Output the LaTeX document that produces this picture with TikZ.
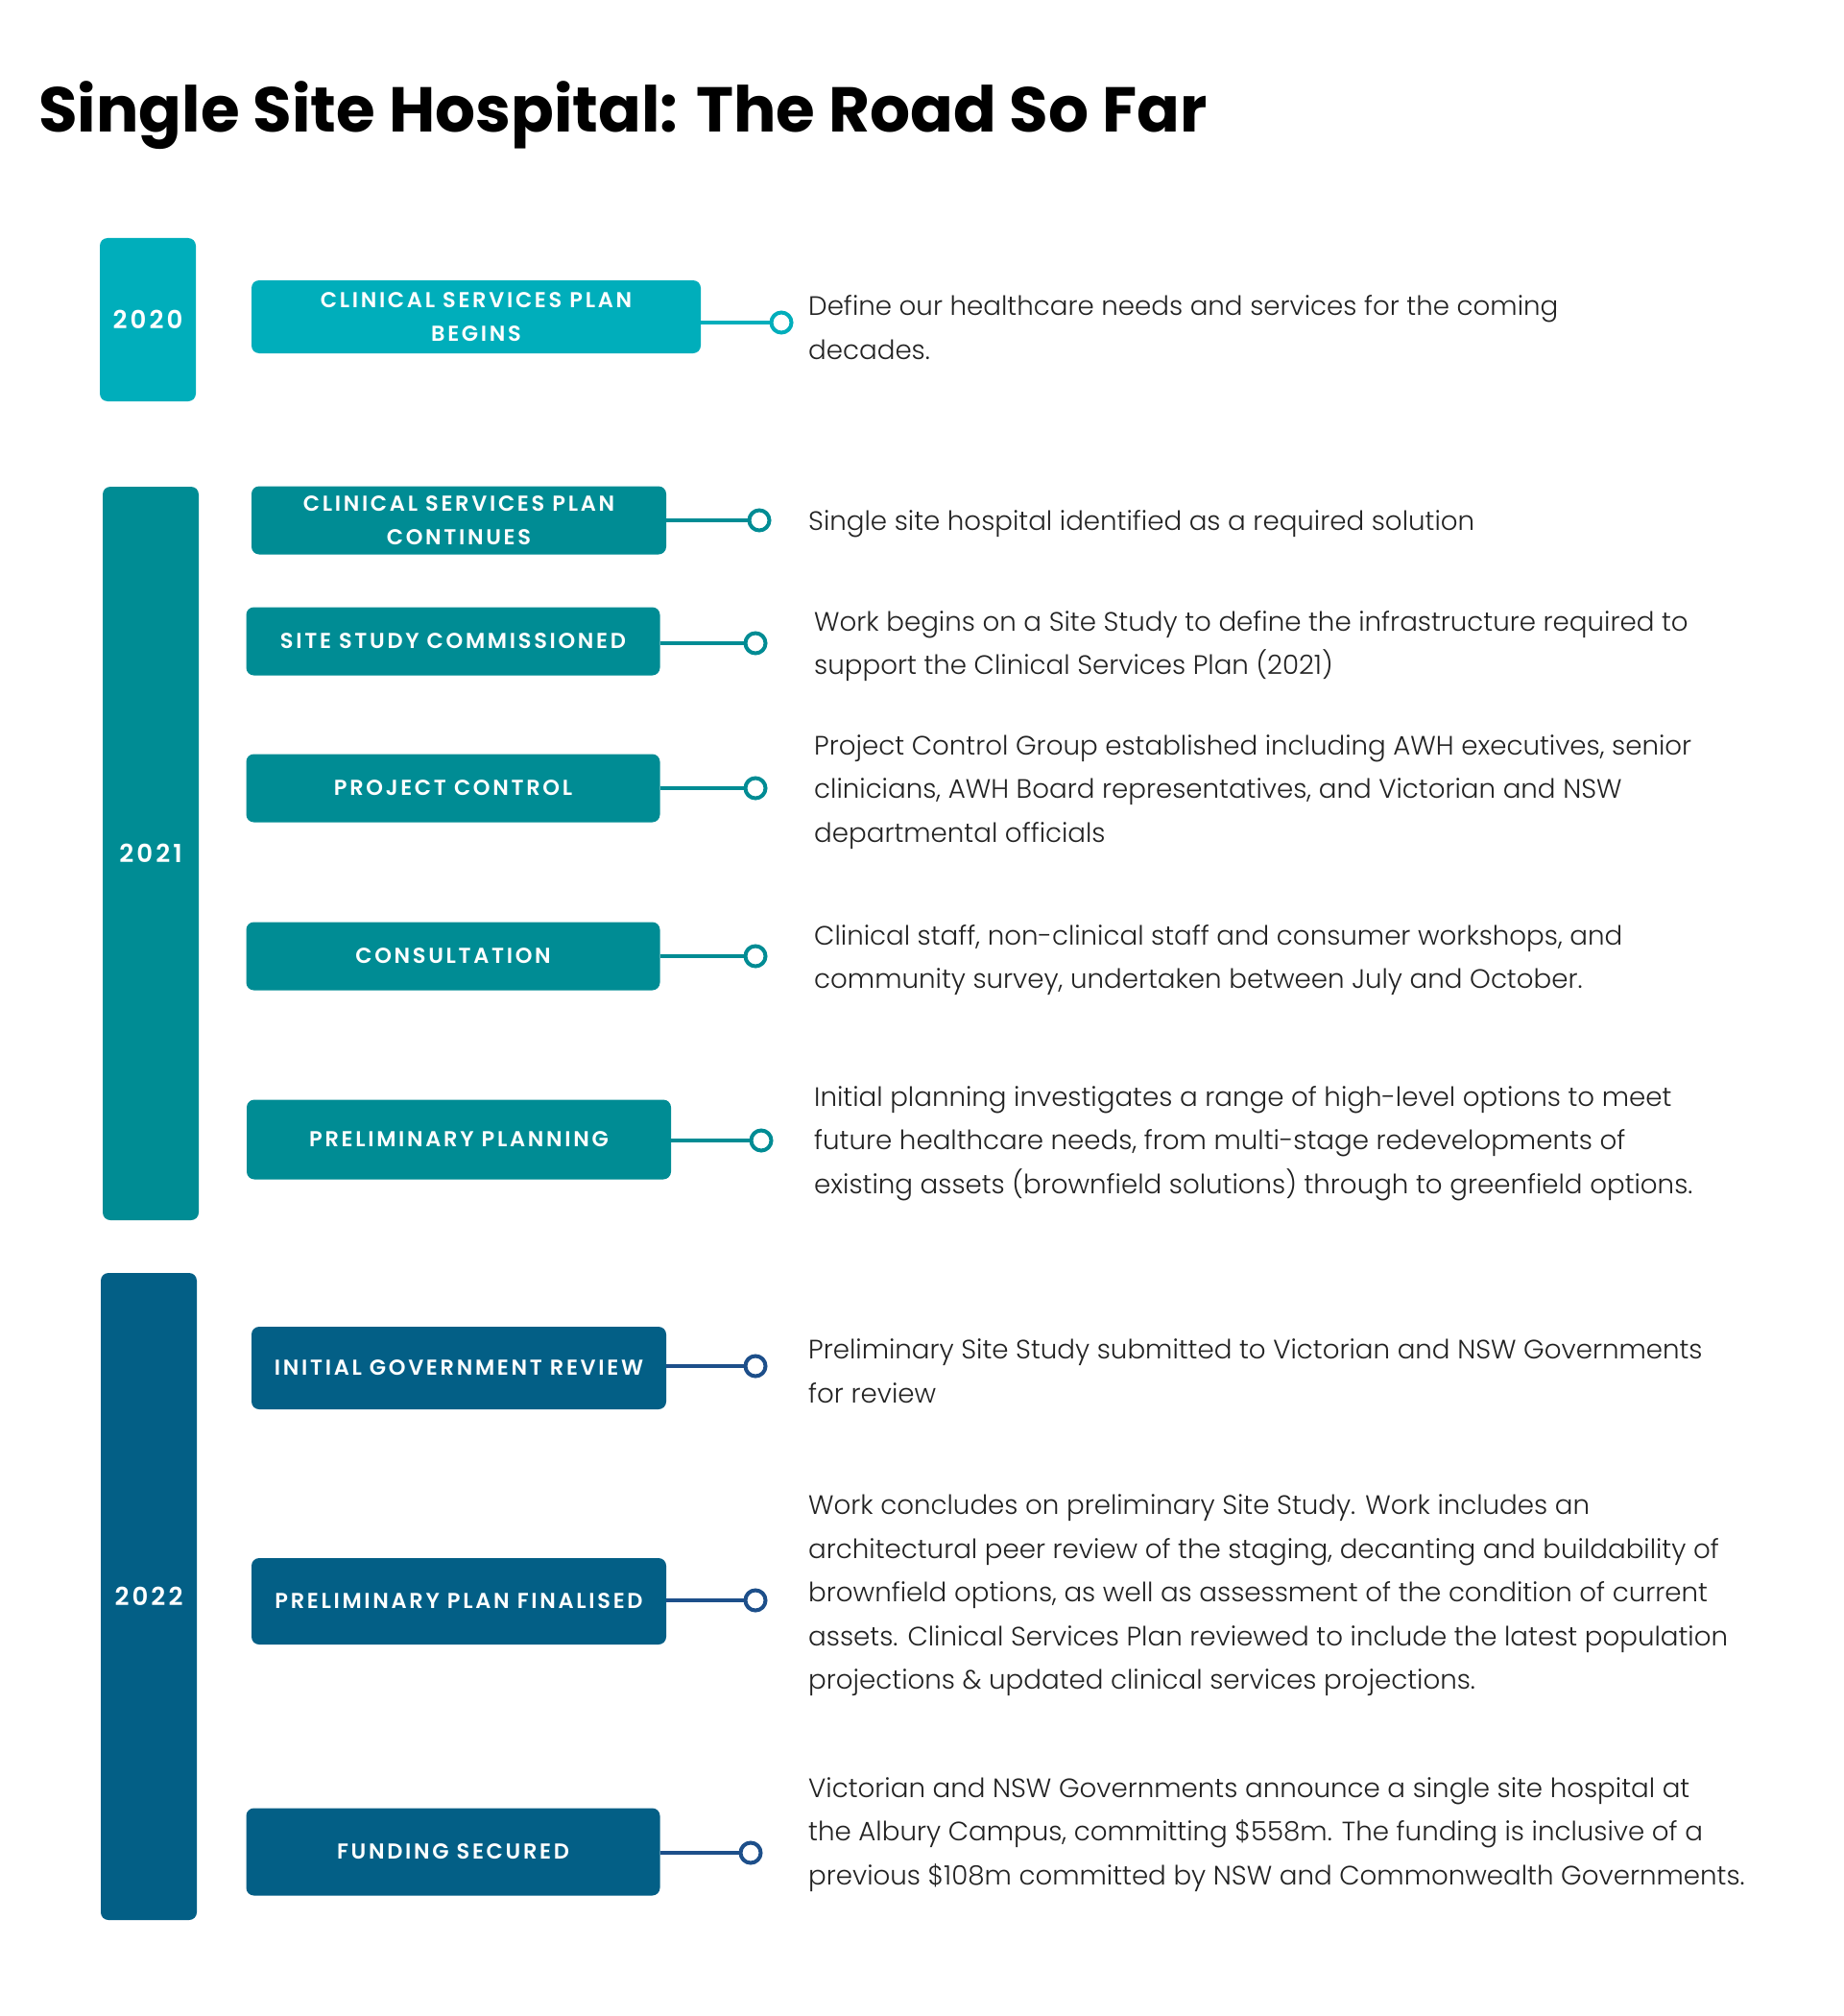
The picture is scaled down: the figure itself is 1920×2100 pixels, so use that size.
\documentclass[tikz,border=0pt]{standalone}
\usepackage{fontspec}
\setmainfont{Poppins}
\newfontfamily\bodyfont{Poppins Light}
\newfontfamily\capsfont[LetterSpace=12, BoldFont={* SemiBold}]{Poppins}
\usetikzlibrary{positioning}
\definecolor{tealA}{HTML}{00AEBB}
\definecolor{tealB}{HTML}{008C94}
\definecolor{navyC}{HTML}{035F86}
\definecolor{lineC}{HTML}{1D4F8A}
\definecolor{textgray}{HTML}{222222}

\begin{document}
\begin{tikzpicture}[x=1pt, y=-1pt,
  year/.style={rounded corners=8pt, minimum width=100pt, inner sep=0pt,
               text=white, font=\capsfont\bfseries\fontsize{26}{30}\selectfont},
  event/.style={rounded corners=8pt, inner sep=0pt, align=center, text=white,
                font=\capsfont\bfseries\fontsize{22.5}{35}\selectfont},
  dot/.style={circle, draw, line width=4pt, fill=white, minimum size=21pt,
              inner sep=0pt},
  link/.style={line width=4pt},
  desc/.style={anchor=west, inner sep=0pt, align=left, text=textgray, yshift=-4pt,
               font=\bodyfont\fontsize{27.7}{45.5}\selectfont}
]
\fill[white] (0,0) rectangle (1920,2100);

% Title
\node[anchor=base west, inner sep=0pt, font=\bfseries\fontsize{66}{74}\selectfont]
      (title) at (40,138) {Single Site Hospital: The Road So Far};

% Year bars
\node[year, fill=tealA, minimum height=170pt] (y2020) at (154,333) {2020};
\node[year, fill=tealB, minimum height=764pt] (y2021) at (157,889) {2021};
\node[year, fill=navyC, minimum height=674pt] (y2022) at (155,1663) {2022};

% 2020
\node[event, fill=tealA, minimum width=468pt, minimum height=76pt] (csp) at (496,330)
      {CLINICAL SERVICES PLAN\\BEGINS};
\node[dot, draw=tealA] (d1) at (814,336) {};
\node[desc] (t1) at (842,337)
      {Define our healthcare needs and services for the coming\\decades.};

% 2021
\node[event, fill=tealB, minimum width=432pt, minimum height=71pt] (cspc) at (478,542)
      {CLINICAL SERVICES PLAN\\CONTINUES};
\node[dot, draw=tealB] (d2) at (791,542) {};
\node[desc] (t2) at (842,542)
      {Single site hospital identified as a required solution};

\node[event, fill=tealB, minimum width=431pt, minimum height=71pt] (study) at (472,668)
      {SITE STUDY COMMISSIONED};
\node[dot, draw=tealB] (d3) at (787,670) {};
\node[desc] (t3) at (848,669)
      {Work begins on a Site Study to define the infrastructure required to\\support the Clinical Services Plan (2021)};

\node[event, fill=tealB, minimum width=431pt, minimum height=71pt] (control) at (472,821)
      {PROJECT CONTROL};
\node[dot, draw=tealB] (d4) at (787,821) {};
\node[desc] (t4) at (848,821)
      {Project Control Group established including AWH executives, senior\\clinicians, AWH Board representatives, and Victorian and NSW\\departmental officials};

\node[event, fill=tealB, minimum width=431pt, minimum height=71pt] (consult) at (472,996)
      {CONSULTATION};
\node[dot, draw=tealB] (d5) at (787,996) {};
\node[desc] (t5) at (848,996)
      {Clinical staff, non-clinical staff and consumer workshops, and\\community survey, undertaken between July and October.};

\node[event, fill=tealB, minimum width=442pt, minimum height=83pt] (prelim) at (478,1187)
      {PRELIMINARY PLANNING};
\node[dot, draw=tealB] (d6) at (793,1188) {};
\node[desc] (t6) at (848,1187)
      {Initial planning investigates a range of high-level options to meet\\future healthcare needs, from multi-stage redevelopments of\\existing assets (brownfield solutions) through to greenfield options.};

% 2022
\node[event, fill=navyC, minimum width=432pt, minimum height=86pt] (review) at (478,1425)
      {INITIAL GOVERNMENT REVIEW};
\node[dot, draw=lineC] (d7) at (787,1423) {};
\node[desc] (t7) at (842,1424)
      {Preliminary Site Study submitted to Victorian and NSW Governments\\for review};

\node[event, fill=navyC, minimum width=432pt, minimum height=90pt] (final) at (478,1668)
      {PRELIMINARY PLAN FINALISED};
\node[dot, draw=lineC] (d8) at (787,1667) {};
\node[desc] (t8) at (842,1658)
      {Work concludes on preliminary Site Study. Work includes an\\architectural peer review of the staging, decanting and buildability of\\brownfield options, as well as assessment of the condition of current\\assets. Clinical Services Plan reviewed to include the latest population\\projections \& updated clinical services projections.};

\node[event, fill=navyC, minimum width=431pt, minimum height=91pt] (funding) at (472,1929)
      {FUNDING SECURED};
\node[dot, draw=lineC] (d9) at (782,1930) {};
\node[desc] (t9) at (842,1907)
      {Victorian and NSW Governments announce a single site hospital at\\the Albury Campus, committing \$558m. The funding is inclusive of a\\previous \$108m committed by NSW and Commonwealth Governments.};

% Connectors
\draw[link, tealA] (csp.east |- d1) -- (d1);
\draw[link, tealB] (cspc.east |- d2) -- (d2);
\draw[link, tealB] (study.east |- d3) -- (d3);
\draw[link, tealB] (control.east |- d4) -- (d4);
\draw[link, tealB] (consult.east |- d5) -- (d5);
\draw[link, tealB] (prelim.east |- d6) -- (d6);
\draw[link, lineC] (review.east |- d7) -- (d7);
\draw[link, lineC] (final.east |- d8) -- (d8);
\draw[link, lineC] (funding.east |- d9) -- (d9);

\end{tikzpicture}
\end{document}
